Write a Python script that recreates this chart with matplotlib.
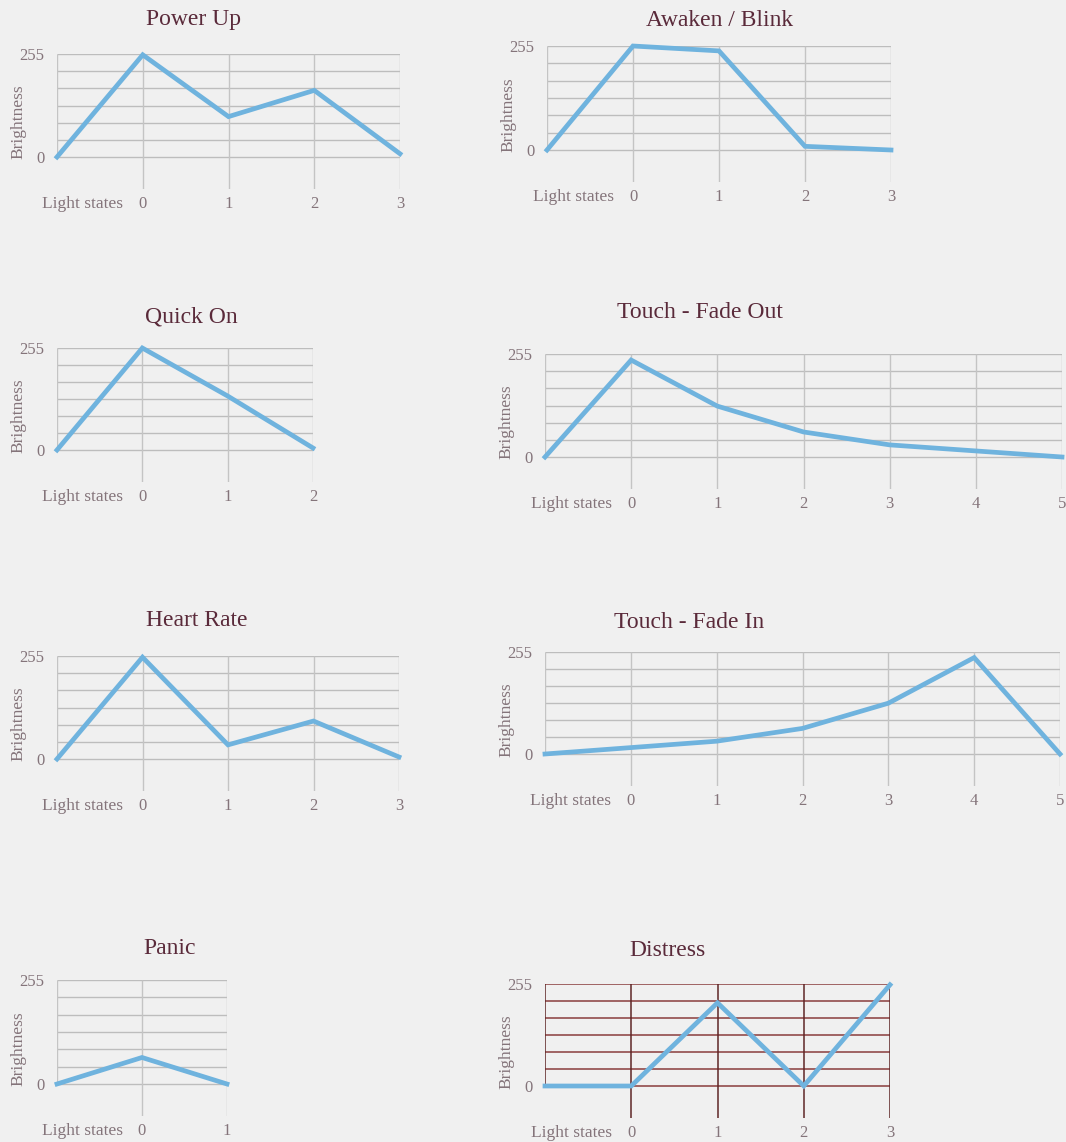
"""
Light state brightness curves for the eight LED behaviours.
"""

import matplotlib
matplotlib.use("Agg")
import matplotlib.pyplot as plt
import numpy as np

plt.rcParams["font.family"] = ["Liberation Serif", "DejaVu Serif"]

# brightness per light state; first value sits at the unlabeled start (x = -1)
titles = ["Power Up", "Awaken / Blink", "Quick On", "Touch - Fade Out",
          "Heart Rate", "Touch - Fade In", "Panic", "Distress"]
power_up = [0, 253, 100, 165, 8]
awaken_blink = [0, 255, 243, 9, 0]
quick_on = [0, 255, 135, 5]
fade_out = [0, 240, 126, 62, 30, 15, 0]
heart_rate = [0, 252, 35, 94, 5]
fade_in = [0, 16, 32, 64, 127, 241, 0]
panic = [0, 65, 0]
distress = [0, 0, 208, 0, 253]
series = [power_up, awaken_blink, quick_on, fade_out,
          heart_rate, fade_in, panic, distress]

# panel boxes in pixels: left (start), right (last state), y of 255, y of 0
boxes = [
    (57, 400, 54, 157),
    (547, 891, 46, 150),
    (57, 313, 348, 450),
    (545, 1062, 354, 457),
    (57, 399, 656, 759),
    (545, 1060, 652, 754),
    (57, 227, 980, 1084),
    (545, 890, 984, 1086),
]
# title centres in pixels
title_pos = [(194, 20), (720, 20), (191, 317), (700, 313),
             (197, 621), (689, 623), (170, 948), (667, 951)]

W, H = 1066, 1142
BG = "#f0f0f0"
LINE = "#6fb3de"
TITLE_C = "#5a2a3a"
LABEL_C = "#84747a"
EXT_PX = 32  # how far the vertical grid runs below the 0 line

fig = plt.figure(figsize=(W / 100, H / 100), dpi=100, facecolor=BG)

for i, (title, vals) in enumerate(zip(titles, series)):
    left, right, top, bot = boxes[i]
    n = len(vals) - 2
    x = np.arange(-1, n + 1)
    ext = EXT_PX / (bot - top) * 255

    ax = fig.add_axes([left / W, 1 - (bot + EXT_PX) / H,
                       (right - left) / W, (bot + EXT_PX - top) / H])
    ax.set_facecolor("none")
    ax.set_xlim(-1, n)
    ax.set_ylim(-ext, 255)
    for s in ax.spines.values():
        s.set_visible(False)

    if title == "Distress":
        hcol, vcol, lw = "#8a3d3d", "#5e2626", 1.1
    else:
        hcol, vcol, lw = "#bdbdbd", "#c4c4c4", 1.0

    ax.hlines(np.linspace(0, 255, 7), -1, n, color=hcol, lw=lw, zorder=1)
    ax.vlines(np.arange(0, n + 1), -ext, 255, color=vcol, lw=lw, zorder=1)
    ax.vlines([-1], 0, 255, color=vcol, lw=lw, zorder=1)

    ax.plot(x, vals, color=LINE, lw=3.4, solid_joinstyle="miter", zorder=3,
            clip_on=False)

    ax.set_xticks(np.arange(0, n + 1))
    ax.set_xticklabels([str(k) for k in range(n + 1)])
    ax.set_yticks([0, 255])
    ax.set_yticklabels(["0", "255"])
    ax.tick_params(axis="x", length=0, pad=5, labelsize=12, colors=LABEL_C)
    ax.tick_params(axis="y", length=0, pad=9, labelsize=12, colors=LABEL_C)

    ax.annotate("Light states", xy=(0, 0), xycoords=("data", "axes fraction"),
                xytext=(-14, -5), textcoords="offset points",
                ha="right", va="top", fontsize=12.5, color=LABEL_C)

    fig.text((left - 39) / W, 1 - (top + 0.66 * (bot - top)) / H, "Brightness",
             rotation=90, ha="center", va="center", fontsize=12.5, color=LABEL_C)

    tx, ty = title_pos[i]
    fig.text(tx / W, 1 - ty / H, title, ha="center", va="center",
             fontsize=17, color=TITLE_C)

fig.savefig("out.png", dpi=100, facecolor=BG)
